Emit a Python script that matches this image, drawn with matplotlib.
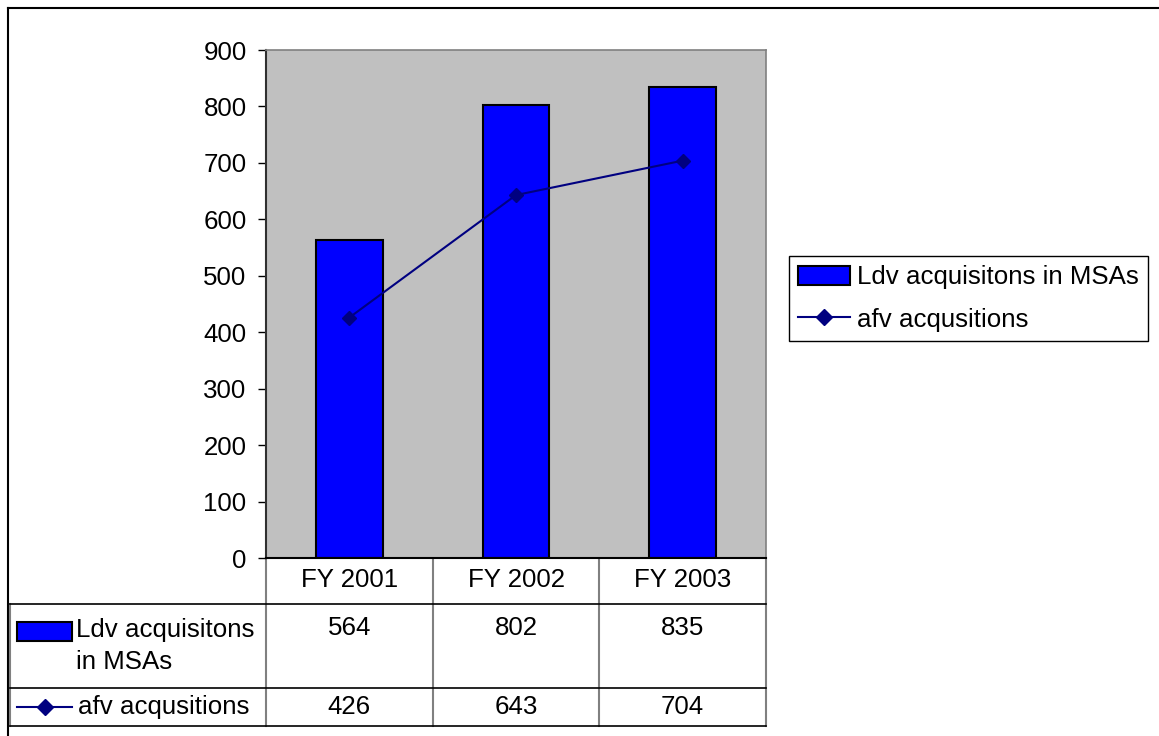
import matplotlib
matplotlib.use("Agg")
import matplotlib.pyplot as plt
from matplotlib.patches import Rectangle
from matplotlib.lines import Line2D
import numpy as np

plt.rcParams['font.family'] = ['Liberation Sans', 'DejaVu Sans']

categories = ["FY 2001", "FY 2002", "FY 2003"]
ldv_values = [564, 802, 835]
afv_values = [426, 643, 704]
series_names = ["Ldv acquisitons in MSAs", "afv acqusitions"]
table_labels = ["Ldv acquisitons\nin MSAs", "afv acqusitions"]
yticks = [0, 100, 200, 300, 400, 500, 600, 700, 800, 900]

W, H = 1159, 736
FS = 18.6
fig = plt.figure(figsize=(W / 100, H / 100), dpi=100)

def fx(px):
    return px / W

def fy(py):
    return 1 - py / H

# plot area
L, R, T, B = 266, 766, 50, 558
ax = fig.add_axes([fx(L), fy(B), fx(R) - fx(L), fy(T) - fy(B)])
ax.set_facecolor('#c0c0c0')
x = np.arange(len(categories))
bar_color = '#0000ff'
line_color = '#000080'
ax.bar(x, ldv_values, width=0.4, color=bar_color, edgecolor='black', linewidth=1.5, zorder=2)
ax.plot(x, afv_values, color=line_color, lw=1.5, marker='D', markersize=7, zorder=3)
ax.set_xlim(-0.5, 2.5)
ax.set_ylim(0, 900)
ax.set_yticks(yticks)
ax.set_yticklabels([str(v) for v in yticks], fontsize=FS)
ax.set_xticks([])
ax.tick_params(axis='y', direction='out', length=6, width=1, pad=8, colors='black')
for s in ['top', 'right']:
    ax.spines[s].set_color('#808080')
    ax.spines[s].set_linewidth(1.2)
ax.spines['left'].set_color('#303030')
ax.spines['left'].set_linewidth(1.5)
ax.spines['bottom'].set_color('black')
ax.spines['bottom'].set_linewidth(1.5)

# legend
handles = [Rectangle((0, 0), 1, 1, facecolor=bar_color, edgecolor='black', linewidth=1.5),
           Line2D([0], [0], color=line_color, lw=1.5, marker='D', markersize=8)]
leg = fig.legend(handles, series_names, loc='center left',
                 bbox_to_anchor=(fx(789), fy(298.5)), fontsize=FS, frameon=True,
                 fancybox=False, edgecolor='black', framealpha=1,
                 handlelength=2.0, handleheight=0.75, handletextpad=0.3,
                 labelspacing=0.7, borderpad=0.35, borderaxespad=0)
leg.get_frame().set_linewidth(1.0)

# overlay for data table and outer border
ov = fig.add_axes([0, 0, 1, 1], zorder=-1)
ov.set_xlim(0, W)
ov.set_ylim(H, 0)
ov.axis('off')

# outer border
ov.plot([8, W + 5], [8, 8], color='black', lw=1.5)
ov.plot([8, 8], [8, H + 5], color='black', lw=1.5)

col_w = (R - L) / len(categories)
cols = [L + i * col_w for i in range(len(categories) + 1)]
rows = [B, 604, 688, 726]
TL = 10
gray = '#808080'
# vertical lines
for cx in cols:
    ov.plot([cx, cx], [B, rows[-1]], color=gray, lw=1.5)
ov.plot([TL, TL], [rows[1], rows[-1]], color=gray, lw=1.5)
# horizontal lines
ov.plot([TL, R], [rows[1], rows[1]], color='black', lw=1.2)
ov.plot([TL, R], [rows[2], rows[2]], color='black', lw=1.2)
ov.plot([TL, R], [rows[3], rows[3]], color='black', lw=1.2)

for i, c in enumerate(categories):
    ov.text(cols[i] + col_w / 2, 580, c, ha='center', va='center', fontsize=FS)
for i, v in enumerate(ldv_values):
    ov.text(cols[i] + col_w / 2, 628, str(v), ha='center', va='center', fontsize=FS)
for i, v in enumerate(afv_values):
    ov.text(cols[i] + col_w / 2, 707, str(v), ha='center', va='center', fontsize=FS)

# table legend keys
ov.add_patch(Rectangle((17, 622), 55, 19, facecolor=bar_color, edgecolor='black', lw=1.5))
ov.text(76, 646, table_labels[0], ha='left', va='center', fontsize=FS, linespacing=1.4)
ov.plot([17, 72], [707, 707], color=line_color, lw=1.5)
ov.plot([44.5], [707], color=line_color, marker='D', markersize=8)
ov.text(78, 707, table_labels[1], ha='left', va='center', fontsize=FS)

fig.savefig('out.png', dpi=100, facecolor='white')
